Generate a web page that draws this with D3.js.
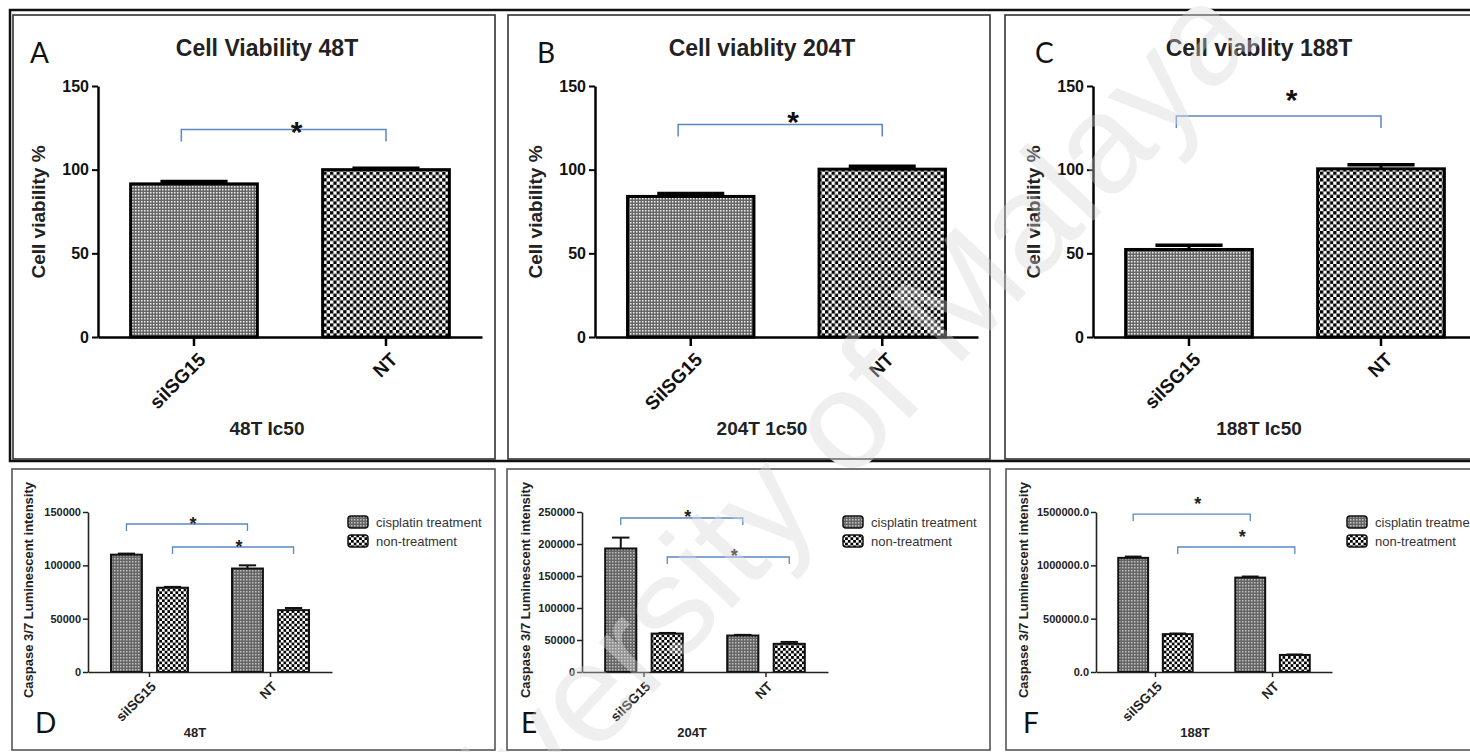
<!DOCTYPE html>
<html><head><meta charset="utf-8">
<script src="https://cdn.jsdelivr.net/npm/d3@7"></script>
<style>
body{margin:0;background:#fff;overflow:hidden}
svg{display:block}
</style>
</head><body>
<svg id="c" width="1470" height="752"></svg>
<script>
// ---------------- DATA ----------------
const viabilityCategories = [["siISG15","NT"],["SiISG15","NT"],["siISG15","NT"]];
const viabilityTitles = ["Cell Viability 48T","Cell viablity 204T","Cell viablity 188T"];
const viabilityXTitles = ["48T Ic50","204T 1c50","188T Ic50"];
const viabilityYTitle = "Cell viability %";
const viabilityValues = [[91.5,100],[84,100.3],[52.3,100.5]];
const viabilityErrors = [[1.4,0.8],[1.8,1.8],[2.5,2.5]];
const viabilityTicks = [0,50,100,150];
const viabilitySigLevel = [124,127,132];
const topLetters = ["A","B","C"];

const caspaseGroups = ["siISG15","NT"];
const caspaseSeries = ["cisplatin treatment","non-treatment"];
const caspaseXTitles = ["48T","204T","188T"];
const caspaseYTitle = "Caspase 3/7 Luminescent intensity";
const caspaseCisplatin = [[110000,97000],[193000,57000],[1070000,885000]];
const caspaseCisplatinErr = [[1000,3000],[17000,1000],[12000,10000]];
const caspaseNonTreatment = [[79000,58000],[60000,44000],[355000,160000]];
const caspaseNonTreatmentErr = [[800,2000],[1000,3000],[6000,4000]];
const caspaseTicks = [[0,50000,100000,150000],[0,50000,100000,150000,200000,250000],[0,500000,1000000,1500000]];
const caspaseTickLabels = [["0","50000","100000","150000"],["0","50000","100000","150000","200000","250000"],["0.0","500000.0","1000000.0","1500000.0"]];
const caspaseSigLevels = [[138750,117200],[240600,179700],[1481000,1172000]];
const bottomLetters = ["D","E","F"];
const watermarkText = "University of Malaya";

// ---------------- LAYOUT ----------------
const FONT = "'Liberation Sans', Arial, sans-serif";
const topLayout = [
  {box:[13,15,482,444], axisL:98, axisR:482, letterX:30, starDy:-5},
  {box:[508,15,482,444], axisL:595, axisR:978, letterX:537, starDy:-9},
  {box:[1005,15,485,444], axisL:1093, axisR:1477, letterX:1035, starDy:-23}
];
const bottomLayout = [
  {box:[12,469,483,281], axisL:88, axisR:332, letterX:35, legendX:348, xTitleX:195, yTitleX:33, starDy:-4},
  {box:[507,469,483,281], axisL:582, axisR:828, letterX:521, legendX:843, xTitleX:692, yTitleX:530, starDy:-5},
  {box:[1006,469,480,281], axisL:1096, axisR:1332, letterX:1023, legendX:1347, xTitleX:1195, yTitleX:1028, starDy:-14}
];

const svg = d3.select("#c");
svg.append("rect").attr("width",1470).attr("height",752).attr("fill","#fff");

// ---------------- PATTERNS ----------------
const defs = svg.append("defs");
function pat(id, size, bg, fg, cells){
  const p = defs.append("pattern").attr("id",id).attr("patternUnits","userSpaceOnUse")
    .attr("width",size).attr("height",size);
  p.append("rect").attr("width",size).attr("height",size).attr("fill",bg);
  cells.forEach(c=>p.append("rect").attr("x",c[0]).attr("y",c[1]).attr("width",c[2]).attr("height",c[2]).attr("fill",fg));
}
pat("fineTop",3,"#666666","#f0f0f0",[[0,0,1.5]]);
pat("checkTop",6.6,"#ffffff","#000000",[[0,0,3.3],[3.3,3.3,3.3]]);
pat("fineBot",3,"#656565","#c0c0c0",[[0,0,1.5]]);
pat("checkBot",5.4,"#ffffff","#000000",[[0,0,2.7],[2.7,2.7,2.7]]);

// outer frame of top row
svg.append("rect").attr("x",10).attr("y",10).attr("width",1480).attr("height",451)
  .attr("fill","none").attr("stroke","#111").attr("stroke-width",2.5);

const BRACKET = "#5b87c2";

// ---------------- WATERMARK (behind marks, faint) ----------------
svg.append("text").attr("id","wm").attr("transform","translate(1262,40) rotate(-47)").attr("text-anchor","end")
  .attr("font-family",FONT).attr("font-size",140).attr("fill","#e9e9e9")
  .text(watermarkText);

// ---------------- TOP PANELS ----------------
topLayout.forEach((L,i)=>{
  const g = svg.append("g");
  g.append("rect").attr("x",L.box[0]).attr("y",L.box[1]).attr("width",L.box[2]).attr("height",L.box[3])
    .attr("fill","none").attr("stroke","#333").attr("stroke-width",1.6);
  const y = d3.scaleLinear().domain([0,150]).range([337,86]);
  const x = d3.scaleBand().domain(viabilityCategories[i]).range([L.axisL,L.axisR]).paddingInner(0.34).paddingOuter(0.17);
  const bw = x.bandwidth();
  const data = viabilityCategories[i].map((c,j)=>({c, v:viabilityValues[i][j], e:viabilityErrors[i][j], j}));

  g.selectAll(".bar").data(data).join("rect")
    .attr("x",d=>x(d.c)).attr("y",d=>y(d.v)).attr("width",bw).attr("height",d=>y(0)-y(d.v))
    .attr("fill",d=>d.j===0?"url(#fineTop)":"url(#checkTop)").attr("stroke","#000").attr("stroke-width",3);
  g.selectAll(".ev").data(data).join("line")
    .attr("x1",d=>x(d.c)+bw/2).attr("x2",d=>x(d.c)+bw/2).attr("y1",d=>y(d.v)).attr("y2",d=>y(d.v+d.e))
    .attr("stroke","#000").attr("stroke-width",3);
  g.selectAll(".ec").data(data).join("line")
    .attr("x1",d=>x(d.c)+bw*0.235).attr("x2",d=>x(d.c)+bw*0.765).attr("y1",d=>y(d.v+d.e)).attr("y2",d=>y(d.v+d.e))
    .attr("stroke","#000").attr("stroke-width",3.5);

  const ya = g.append("g").attr("transform",`translate(${L.axisL},0)`)
    .call(d3.axisLeft(y).tickValues(viabilityTicks).tickSize(6).tickSizeOuter(0).tickPadding(3));
  ya.attr("font-family",FONT).attr("font-size",16).attr("font-weight","bold");
  ya.select(".domain").attr("stroke","#000").attr("stroke-width",2.5);
  ya.selectAll(".tick line").attr("stroke","#000").attr("stroke-width",2);
  ya.selectAll(".tick text").attr("fill","#111");

  const xa = g.append("g").attr("transform",`translate(0,${y(0)})`)
    .call(d3.axisBottom(x).tickSize(9).tickSizeOuter(0));
  xa.attr("font-family",FONT).attr("font-size",19).attr("font-weight","bold");
  xa.select(".domain").attr("stroke","#000").attr("stroke-width",2.5);
  xa.selectAll(".tick line").attr("stroke","#000").attr("stroke-width",2.5);
  xa.selectAll(".tick text").attr("fill","#111").attr("text-anchor","end")
    .attr("x",0).attr("y",0).attr("dy","0.35em").attr("transform","translate(8,19) rotate(-45)");

  g.append("text").attr("x",L.box[0]+254).attr("y",56).attr("text-anchor","middle")
    .attr("font-family",FONT).attr("font-weight","bold").attr("font-size",23).attr("fill","#222")
    .text(viabilityTitles[i]);
  g.append("text").attr("x",L.letterX).attr("y",63)
    .attr("font-family","Lato, 'Open Sans', sans-serif").attr("font-size",28).attr("fill","#111")
    .text(topLetters[i]);
  g.append("text").attr("x",L.box[0]+254).attr("y",435).attr("text-anchor","middle")
    .attr("font-family",FONT).attr("font-weight","bold").attr("font-size",19).attr("fill","#222")
    .text(viabilityXTitles[i]);
  g.append("text").attr("transform",`translate(${L.axisL-53},212) rotate(-90)`).attr("text-anchor","middle")
    .attr("font-family",FONT).attr("font-weight","bold").attr("font-size",19).attr("fill","#222")
    .text(viabilityYTitle);

  const c0 = viabilityCategories[i][0], c1 = viabilityCategories[i][1];
  const bx1 = x(c0)+bw*0.4, bx2 = x(c1)+bw*0.5, by = y(viabilitySigLevel[i]);
  g.append("path").attr("d",`M${bx1},${by+12}V${by}H${bx2}V${by+12}`)
    .attr("fill","none").attr("stroke",BRACKET).attr("stroke-width",1.5);
  g.append("text").attr("x",(bx1+bx2)/2+13).attr("y",by+L.starDy+17).attr("text-anchor","middle")
    .attr("font-family",FONT).attr("font-weight","bold").attr("font-size",30).attr("fill","#111").text("*");
});

// ---------------- BOTTOM PANELS ----------------
bottomLayout.forEach((L,i)=>{
  const g = svg.append("g");
  g.append("rect").attr("x",L.box[0]).attr("y",L.box[1]).attr("width",L.box[2]).attr("height",L.box[3])
    .attr("fill","none").attr("stroke","#555").attr("stroke-width",1.6);
  const ticks = caspaseTicks[i];
  const y = d3.scaleLinear().domain([0,ticks[ticks.length-1]]).range([672,512]);
  const x0 = d3.scaleBand().domain(caspaseGroups).range([L.axisL,L.axisR]).paddingInner(0.364).paddingOuter(0.19);
  const x1 = d3.scaleBand().domain(caspaseSeries).range([0,x0.bandwidth()]).paddingInner(0.33);
  const bw = x1.bandwidth();
  const data = [];
  caspaseGroups.forEach((gr,j)=>{
    data.push({gr, s:caspaseSeries[0], v:caspaseCisplatin[i][j], e:caspaseCisplatinErr[i][j], fill:"url(#fineBot)"});
    data.push({gr, s:caspaseSeries[1], v:caspaseNonTreatment[i][j], e:caspaseNonTreatmentErr[i][j], fill:"url(#checkBot)"});
  });
  const cx = d=>x0(d.gr)+x1(d.s)+bw/2;
  g.selectAll(".bar").data(data).join("rect")
    .attr("x",d=>x0(d.gr)+x1(d.s)).attr("y",d=>y(d.v)).attr("width",bw).attr("height",d=>y(0)-y(d.v))
    .attr("fill",d=>d.fill).attr("stroke","#111").attr("stroke-width",2);
  g.selectAll(".ev").data(data).join("line")
    .attr("x1",cx).attr("x2",cx).attr("y1",d=>y(d.v)).attr("y2",d=>y(d.v+d.e))
    .attr("stroke","#111").attr("stroke-width",2);
  g.selectAll(".ec").data(data).join("line")
    .attr("x1",d=>cx(d)-bw*0.28).attr("x2",d=>cx(d)+bw*0.28).attr("y1",d=>y(d.v+d.e)).attr("y2",d=>y(d.v+d.e))
    .attr("stroke","#111").attr("stroke-width",2);

  const ya = g.append("g").attr("transform",`translate(${L.axisL},0)`)
    .call(d3.axisLeft(y).tickValues(ticks).tickFormat((d,k)=>caspaseTickLabels[i][k]).tickSize(5).tickSizeOuter(0).tickPadding(2));
  ya.attr("font-family",FONT).attr("font-size",11).attr("font-weight","bold");
  ya.select(".domain").attr("stroke","#222").attr("stroke-width",1.6);
  ya.selectAll(".tick line").attr("stroke","#222").attr("stroke-width",1.5);
  ya.selectAll(".tick text").attr("fill","#222");

  const xa = g.append("g").attr("transform",`translate(0,${y(0)})`)
    .call(d3.axisBottom(x0).tickSize(5).tickSizeOuter(0));
  xa.attr("font-family",FONT).attr("font-size",13.5).attr("font-weight","bold");
  xa.select(".domain").attr("stroke","#222").attr("stroke-width",1.6);
  xa.selectAll(".tick line").attr("stroke","#222").attr("stroke-width",1.5);
  xa.selectAll(".tick text").attr("fill","#222").attr("text-anchor","end")
    .attr("x",0).attr("y",0).attr("dy","0.35em").attr("transform","translate(4,12) rotate(-45)");

  g.append("text").attr("transform",`translate(${L.yTitleX},590) rotate(-90)`).attr("text-anchor","middle")
    .attr("font-family",FONT).attr("font-weight","bold").attr("font-size",13).attr("fill","#222")
    .text(caspaseYTitle);
  g.append("text").attr("x",L.xTitleX).attr("y",737).attr("text-anchor","middle")
    .attr("font-family",FONT).attr("font-weight","bold").attr("font-size",13).attr("fill","#222")
    .text(caspaseXTitles[i]);
  g.append("text").attr("x",L.letterX).attr("y",733)
    .attr("font-family","Lato, 'Open Sans', sans-serif").attr("font-size",28).attr("fill","#111")
    .text(bottomLetters[i]);

  caspaseSeries.forEach((s,k)=>{
    const ly = 522 + k*19;
    g.append("rect").attr("x",L.legendX).attr("y",ly-6).attr("width",20).attr("height",12).attr("rx",3)
      .attr("fill",k===0?"url(#fineBot)":"url(#checkBot)").attr("stroke","#111").attr("stroke-width",1.5);
    g.append("text").attr("x",L.legendX+28).attr("y",ly).attr("dy","0.35em")
      .attr("font-family",FONT).attr("font-size",13).attr("fill","#333").text(s);
  });

  caspaseSeries.forEach((s,k)=>{
    const a = {gr:caspaseGroups[0], s}, b = {gr:caspaseGroups[1], s};
    const bx1 = cx(a), bx2 = cx(b), by = y(caspaseSigLevels[i][k]);
    g.append("path").attr("d",`M${bx1},${by+7}V${by}H${bx2}V${by+7}`)
      .attr("fill","none").attr("stroke",BRACKET).attr("stroke-width",1.3);
    g.append("text").attr("x",(bx1+bx2)/2+6).attr("y",by+L.starDy+10).attr("text-anchor","middle")
      .attr("font-family",FONT).attr("font-weight","bold").attr("font-size",18).attr("fill","#222").text("*");
  });
});

// faint white overlay of the same watermark (reuses the element, no duplicate text)
svg.append("use").attr("href","#wm").attr("fill","#ffffff").attr("opacity",0.3);
// make the clone's fill white: the original's fill attribute would win, so override via style on a wrapper
d3.select("#wm").attr("fill",null).style("fill","inherit");
svg.insert("g","#wm").attr("id","wmWrap").attr("fill","#e9e9e9");
document.getElementById("wmWrap").appendChild(document.getElementById("wm"));
</script>
</body></html>
